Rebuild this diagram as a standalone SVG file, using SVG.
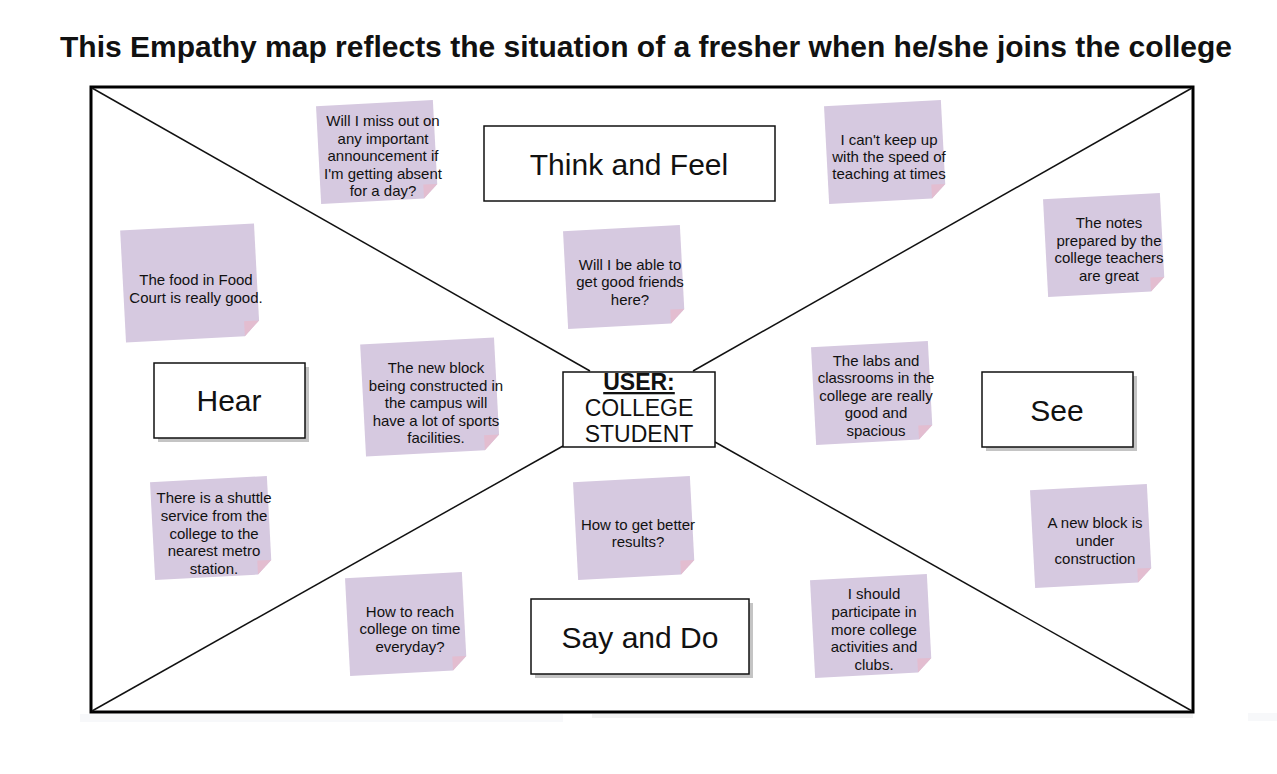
<svg xmlns="http://www.w3.org/2000/svg" width="1277" height="774" viewBox="0 0 1277 774">
<defs>
<style>
.t{font-family:"Liberation Sans",Arial,sans-serif;fill:#111;text-anchor:middle}
.s{font-size:15px}
.lab{font-size:30px}
.body{fill:#d6c9e0}
.fold{fill:#e3bdd0}
.box{fill:#fff;stroke:#111;stroke-width:1.5}
.sh{fill:#c4c4c4}
.ln{stroke:#111;stroke-width:1.5;fill:none}
</style>
<g id="stk">
<polygon class="body" points="-58.5,-49 58.5,-49 58.5,35 44.5,49 -58.5,49"/>
<polygon class="fold" points="58.5,35 44.5,49 44.5,35"/>
</g>
<g id="stkL">
<polygon class="body" points="-67,-56 67,-56 67,41 52,56 -67,56"/>
<polygon class="fold" points="67,41 52,56 52,41"/>
</g>
</defs>
<rect width="1277" height="774" fill="#fff"/>
<text class="t" x="646" y="57" font-size="30" font-weight="bold" textLength="1172" lengthAdjust="spacingAndGlyphs">This Empathy map reflects the situation of a fresher when he/she joins the college</text>
<rect x="80" y="714" width="483" height="8" fill="#f7f8fa"/>
<rect x="592" y="714" width="601" height="4" fill="#f2f2f2"/>
<rect x="1248" y="713" width="29" height="8" fill="#f7f8fa"/>
<rect x="91" y="87" width="1102" height="625" fill="#fff" stroke="#000" stroke-width="3"/>
<g id="connectors">
<line class="ln" x1="92" y1="88" x2="590" y2="371"/>
<line class="ln" x1="1192" y1="88" x2="693" y2="371"/>
<line class="ln" x1="92" y1="711" x2="563" y2="446"/>
<line class="ln" x1="715" y1="442" x2="1192" y2="711"/>
</g>
<g id="center">
<rect class="box" x="563" y="372" width="152" height="75"/>
<text class="t" x="639" y="390" font-size="23" font-weight="bold" text-decoration="underline">USER:</text>
<text class="t" x="639" y="416" font-size="23">COLLEGE</text>
<text class="t" x="639" y="442" font-size="23">STUDENT</text>
</g>
<g id="think">
<rect class="box" x="484" y="126" width="291" height="75" stroke="#444"/>
<text class="t lab" x="629" y="175">Think and Feel</text>
</g>
<g id="hear">
<rect class="sh" x="158" y="367" width="151" height="75"/>
<rect class="box" x="154" y="363" width="151" height="75"/>
<text class="t lab" x="229" y="411">Hear</text>
</g>
<g id="see">
<rect class="sh" x="986" y="376" width="151" height="75"/>
<rect class="box" x="982" y="372" width="151" height="75"/>
<text class="t lab" x="1057" y="421">See</text>
</g>
<g id="saydo">
<rect class="sh" x="535" y="603" width="218" height="75"/>
<rect class="box" x="531" y="599" width="218" height="75"/>
<text class="t lab" x="640" y="648">Say and Do</text>
</g>
<g id="n1">
<use href="#stk" transform="translate(377,152) rotate(-3)"/>
<text class="t s" x="383" y="126">Will I miss out on</text>
<text class="t s" x="383" y="144">any important</text>
<text class="t s" x="383" y="161">announcement if</text>
<text class="t s" x="383" y="179">I'm getting absent</text>
<text class="t s" x="383" y="196">for a day?</text>
</g>
<g id="n2">
<use href="#stkL" transform="translate(190,283) rotate(-3)"/>
<text class="t s" x="196" y="285">The food in Food</text>
<text class="t s" x="196" y="303">Court is really good.</text>
</g>
<g id="n3">
<use href="#stk" transform="translate(624,277) rotate(-3)"/>
<text class="t s" x="630" y="270">Will I be able to</text>
<text class="t s" x="630" y="287">get good friends</text>
<text class="t s" x="630" y="305">here?</text>
</g>
<g id="n4">
<use href="#stk" transform="translate(885,152) rotate(-3)"/>
<text class="t s" x="889" y="145">I can't keep up</text>
<text class="t s" x="889" y="162">with the speed of</text>
<text class="t s" x="889" y="179">teaching at times</text>
</g>
<g id="n5">
<use href="#stk" transform="translate(1104,245) rotate(-3)"/>
<text class="t s" x="1109" y="228">The notes</text>
<text class="t s" x="1109" y="246">prepared by the</text>
<text class="t s" x="1109" y="263">college teachers</text>
<text class="t s" x="1109" y="281">are great</text>
</g>
<g id="n6">
<use href="#stkL" transform="translate(430,397) rotate(-3)"/>
<text class="t s" x="436" y="373">The new block</text>
<text class="t s" x="436" y="391">being constructed in</text>
<text class="t s" x="436" y="408">the campus will</text>
<text class="t s" x="436" y="426">have a lot of sports</text>
<text class="t s" x="436" y="443">facilities.</text>
</g>
<g id="n7">
<use href="#stk" transform="translate(211,528) rotate(-3)"/>
<text class="t s" x="214" y="503">There is a shuttle</text>
<text class="t s" x="214" y="521">service from the</text>
<text class="t s" x="214" y="539">college to the</text>
<text class="t s" x="214" y="556">nearest metro</text>
<text class="t s" x="214" y="574">station.</text>
</g>
<g id="n8">
<use href="#stk" transform="translate(872,393) rotate(-3)"/>
<text class="t s" x="876" y="366">The labs and</text>
<text class="t s" x="876" y="383">classrooms in the</text>
<text class="t s" x="876" y="401">college are really</text>
<text class="t s" x="876" y="418">good and</text>
<text class="t s" x="876" y="436">spacious</text>
</g>
<g id="n9">
<use href="#stk" transform="translate(634,528) rotate(-3)"/>
<text class="t s" x="638" y="530">How to get better</text>
<text class="t s" x="638" y="547">results?</text>
</g>
<g id="n10">
<use href="#stk" transform="translate(1091,536) rotate(-3)"/>
<text class="t s" x="1095" y="528">A new block is</text>
<text class="t s" x="1095" y="546">under</text>
<text class="t s" x="1095" y="564">construction</text>
</g>
<g id="n11">
<use href="#stk" transform="translate(406,624) rotate(-3)"/>
<text class="t s" x="410" y="617">How to reach</text>
<text class="t s" x="410" y="634">college on time</text>
<text class="t s" x="410" y="652">everyday?</text>
</g>
<g id="n12">
<use href="#stk" transform="translate(871,626) rotate(-3)"/>
<text class="t s" x="874" y="599">I should</text>
<text class="t s" x="874" y="617">participate in</text>
<text class="t s" x="874" y="635">more college</text>
<text class="t s" x="874" y="652">activities and</text>
<text class="t s" x="874" y="670">clubs.</text>
</g>
</svg>
